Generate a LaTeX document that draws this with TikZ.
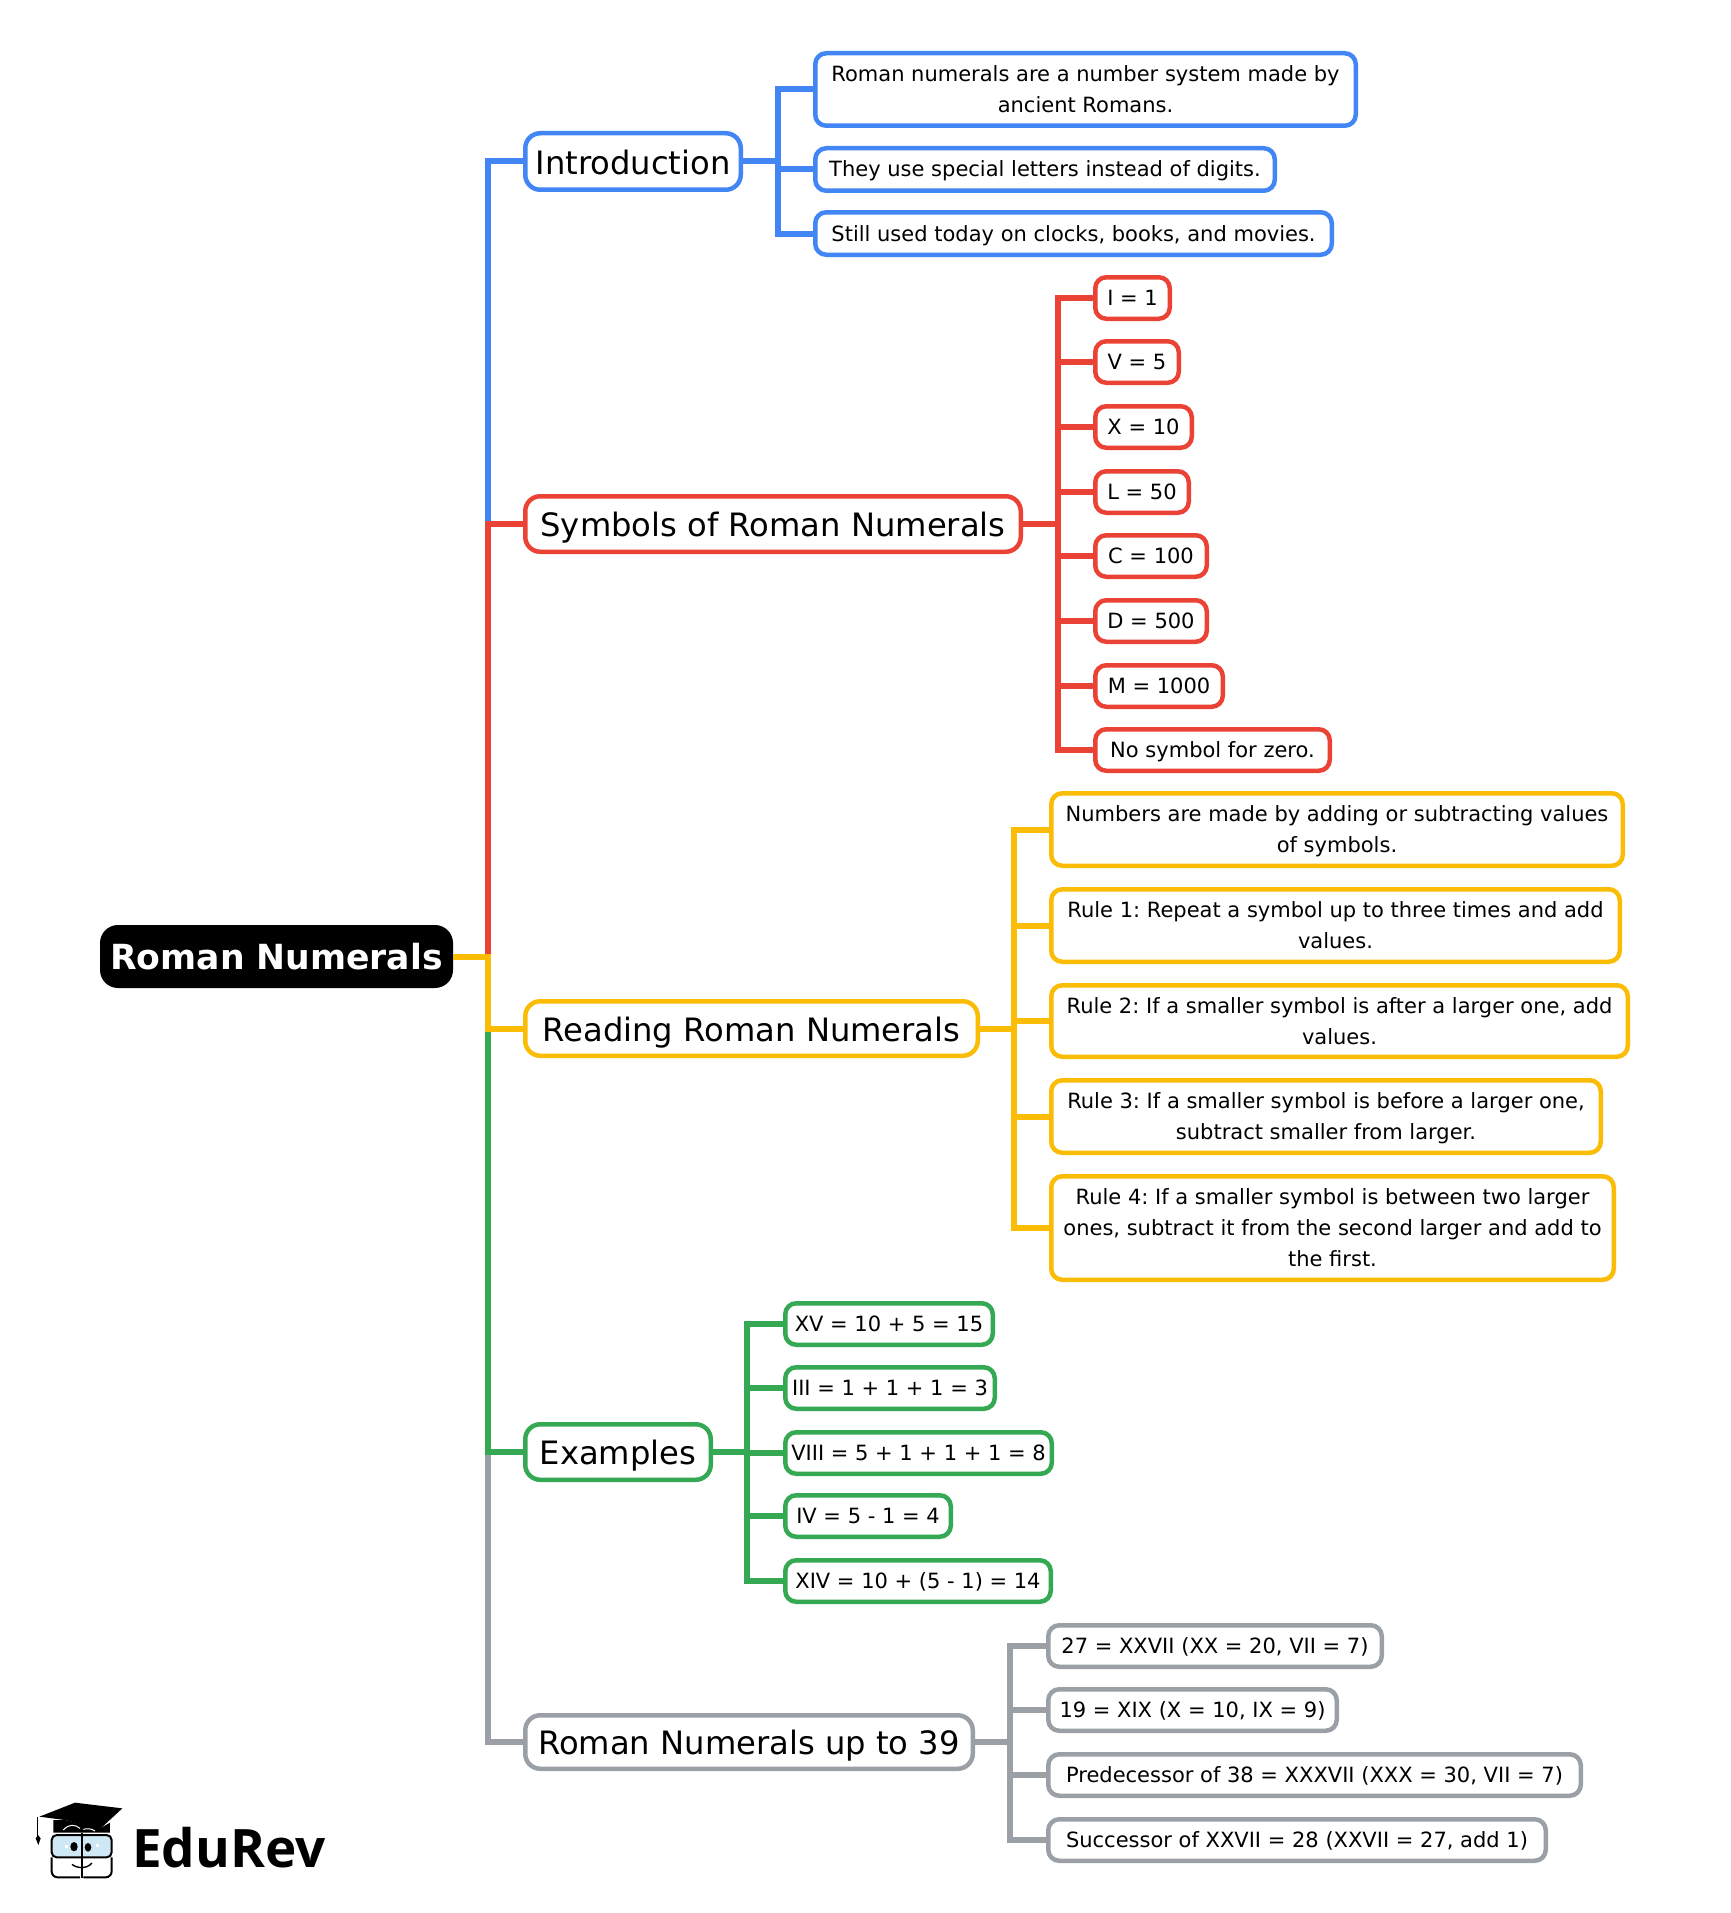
\documentclass[tikz,border=0pt]{standalone}
\usepackage{fontspec}
\setmainfont{DejaVu Sans}
\newfontfamily\logofont{Open Sans}
\frenchspacing
\definecolor{cblue}{HTML}{4285F4}
\definecolor{cred}{HTML}{EA4335}
\definecolor{cyel}{HTML}{FBBC05}
\definecolor{cgrn}{HTML}{34A853}
\definecolor{cgry}{HTML}{9AA0A6}
\definecolor{cglass}{HTML}{CFE8F5}
\tikzset{
  baseb/.style={rectangle,outer sep=0pt,inner sep=0pt,align=center,text=black,line width=4.5pt},
  leafb/.style={baseb,rounded corners=11pt,font=\fontsize{21}{31}\selectfont\def\sstrut{\rule[-5pt]{0pt}{25pt}}},
  mainb/.style={baseb,rounded corners=15pt,font=\fontsize{32.2}{38}\selectfont\def\sstrut{\rule[-7.6pt]{0pt}{40.6pt}}},
  rootb/.style={rectangle,outer sep=0pt,inner sep=0pt,fill=black,text=white,rounded corners=18pt,font=\fontsize{34.6}{40}\selectfont\bfseries},
  conn/.style={line width=6pt},
}
% name, style, colour, x0, x1, y0, y1, text
\newcommand{\bx}[8]{%
  \pgfmathsetmacro{\bxw}{#5-#4-4.5}\pgfmathsetmacro{\bxh}{#7-#6-4.5}%
  \pgfmathsetmacro{\bxx}{(#4+#5)/2}\pgfmathsetmacro{\bxy}{(#6+#7)/2}%
  \node[#2,draw=#3,minimum width=\bxw pt,minimum height=\bxh pt] (#1) at (\bxx,\bxy) {\sstrut #8\sstrut};}
\begin{document}
\begin{tikzpicture}[x=1pt,y=-1pt]
\useasboundingbox (0,0) rectangle (1731,1913);
\fill[white] (0,0) rectangle (1731,1913);
% root
\node[rootb,minimum width=353pt,minimum height=63pt] (root) at (276.5,956.5) {Roman Numerals};
% main
\bx{intro}{mainb}{cblue}{523}{743}{131}{192}{Introduction}
\bx{symb}{mainb}{cred}{523}{1023}{494}{554}{Symbols of Roman Numerals}
\bx{read}{mainb}{cyel}{523}{980}{999}{1058}{Reading Roman Numerals}
\bx{exam}{mainb}{cgrn}{523}{713}{1422}{1482}{Examples}
\bx{upto}{mainb}{cgry}{523}{975}{1713}{1771}{Roman Numerals up to 39}
% intro leaves
\bx{ia}{leafb}{cblue}{813}{1358}{51}{128}{Roman numerals are a number system made by\\ancient Romans.}
\bx{ib}{leafb}{cblue}{813}{1277}{146}{193}{They use special letters instead of digits.}
\bx{ic}{leafb}{cblue}{813}{1334}{210}{257}{Still used today on clocks, books, and movies.}
% symbols
\bx{sa}{leafb}{cred}{1093}{1172}{275}{321}{I = 1}
\bx{sb}{leafb}{cred}{1093}{1181}{339}{385}{V = 5}
\bx{sc}{leafb}{cred}{1093}{1194}{404}{450}{X = 10}
\bx{sd}{leafb}{cred}{1093}{1191}{469}{515}{L = 50}
\bx{se}{leafb}{cred}{1093}{1209}{533}{579}{C = 100}
\bx{sf}{leafb}{cred}{1093}{1209}{598}{644}{D = 500}
\bx{sg}{leafb}{cred}{1093}{1225}{663}{709}{M = 1000}
\bx{sh}{leafb}{cred}{1093}{1332}{727}{773}{No symbol for zero.}
% reading
\bx{ra}{leafb}{cyel}{1049}{1625}{791}{868}{Numbers are made by adding or subtracting values\\of symbols.}
\bx{rb}{leafb}{cyel}{1049}{1622}{887}{964}{Rule 1: Repeat a symbol up to three times and add\\values.}
\bx{rc}{leafb}{cyel}{1049}{1630}{983}{1059}{Rule 2: If a smaller symbol is after a larger one, add\\values.}
\bx{rd}{leafb}{cyel}{1049}{1603}{1078}{1155}{Rule 3: If a smaller symbol is before a larger one,\\subtract smaller from larger.}
\bx{re}{leafb}{cyel}{1049}{1616}{1174}{1282}{Rule 4: If a smaller symbol is between two larger\\ones, subtract it from the second larger and add to\\the first.}
% examples
\bx{ea}{leafb}{cgrn}{783}{995}{1301}{1347}{XV = 10 + 5 = 15}
\bx{eb}{leafb}{cgrn}{783}{997}{1365}{1411}{III = 1 + 1 + 1 = 3}
\bx{ec}{leafb}{cgrn}{783}{1054}{1430}{1476}{VIII = 5 + 1 + 1 + 1 = 8}
\bx{ed}{leafb}{cgrn}{783}{953}{1493}{1539}{IV = 5 - 1 = 4}
\bx{ee}{leafb}{cgrn}{783}{1053}{1558}{1604}{XIV = 10 + (5 - 1) = 14}
% up to 39
\bx{ua}{leafb}{cgry}{1046}{1384}{1623}{1669}{27 = XXVII (XX = 20, VII = 7)}
\bx{ub}{leafb}{cgry}{1046}{1339}{1687}{1733}{19 = XIX (X = 10, IX = 9)}
\bx{uc}{leafb}{cgry}{1046}{1583}{1752}{1798}{Predecessor of 38 = XXXVII (XXX = 30, VII = 7)}
\bx{ud}{leafb}{cgry}{1046}{1548}{1817}{1863}{Successor of XXVII = 28 (XXVII = 27, add 1)}
% buses
\coordinate (trunk) at (488,0);
\coordinate (busi) at (778,0);
\coordinate (buss) at (1058,0);
\coordinate (busr) at (1014,0);
\coordinate (buse) at (747,0);
\coordinate (busu) at (1010,0);
% trunk connectors
\draw[conn,cblue] (root.east) -- (root.east -| trunk) |- (intro.west);
\draw[conn,cred] (root.east) -- (root.east -| trunk) |- (symb.west);
\draw[conn,cgry] (root.east) -- (root.east -| trunk) |- (upto.west);
\draw[conn,cgrn] (root.east) -- (root.east -| trunk) |- (exam.west);
\draw[conn,cyel] (root.east) -- (root.east -| trunk) |- (read.west);
% leaf connectors
\foreach \c in {ia,ib,ic} \draw[conn,cblue] (intro.east) -- (intro.east -| busi) |- (\c.west);
\foreach \c in {sa,sb,sc,sd,se,sf,sg,sh} \draw[conn,cred] (symb.east) -- (symb.east -| buss) |- (\c.west);
\foreach \c in {ra,rb,rc,rd,re} \draw[conn,cyel] (read.east) -- (read.east -| busr) |- (\c.west);
\foreach \c in {ea,eb,ec,ed,ee} \draw[conn,cgrn] (exam.east) -- (exam.east -| buse) |- (\c.west);
\foreach \c in {ua,ub,uc,ud} \draw[conn,cgry] (upto.east) -- (upto.east -| busu) |- (\c.west);
% logo
\begin{scope}[shift={(0,1760)},x=0.33333pt,y=-0.33333pt]
  \fill[black] (160,180) -- (160,218) -- (330,218) -- (330,188) -- (300,205) -- (195,180) -- cycle;
  \draw[white,line width=1pt] (190,210) .. controls (205,192) and (225,192) .. (240,205);
  \draw[white,line width=1pt] (250,208) .. controls (260,205) and (275,205) .. (285,213);
  \fill[black] (118,170) -- (225,128) -- (367,145) -- (300,207) -- (195,180) -- cycle;
  \draw[black,line width=1pt] (114,172) -- (114,228);
  \fill[black] (107,235) -- (114,225) -- (122,235) -- (115,255) -- cycle;
  \draw[black,line width=2pt,fill=cglass,rounded corners=5pt] (155,225) rectangle (335,292);
  \draw[black,line width=2pt,rounded corners=6pt] (240,352) -- (155,352) -- (155,292);
  \draw[black,line width=2pt,rounded corners=6pt] (250,352) -- (335,352) -- (335,292);
  \draw[black,line width=2pt] (245,218) -- (245,355);
  \fill[black] (222,260) ellipse [x radius=11,y radius=14];
  \fill[black] (264,262) ellipse [x radius=10,y radius=13];
  \fill[white] (195,255) rectangle (205,265);
  \fill[white] (288,251) rectangle (298,261);
  \draw[black,line width=1.4pt] (216,313) .. controls (230,325) and (260,328) .. (276,309);
\end{scope}
\node[font=\logofont\fontsize{53}{60}\selectfont\bfseries,text=black,anchor=base west,inner sep=0pt] (logo) at (132,1867) {EduRev};
\end{tikzpicture}
\end{document}
